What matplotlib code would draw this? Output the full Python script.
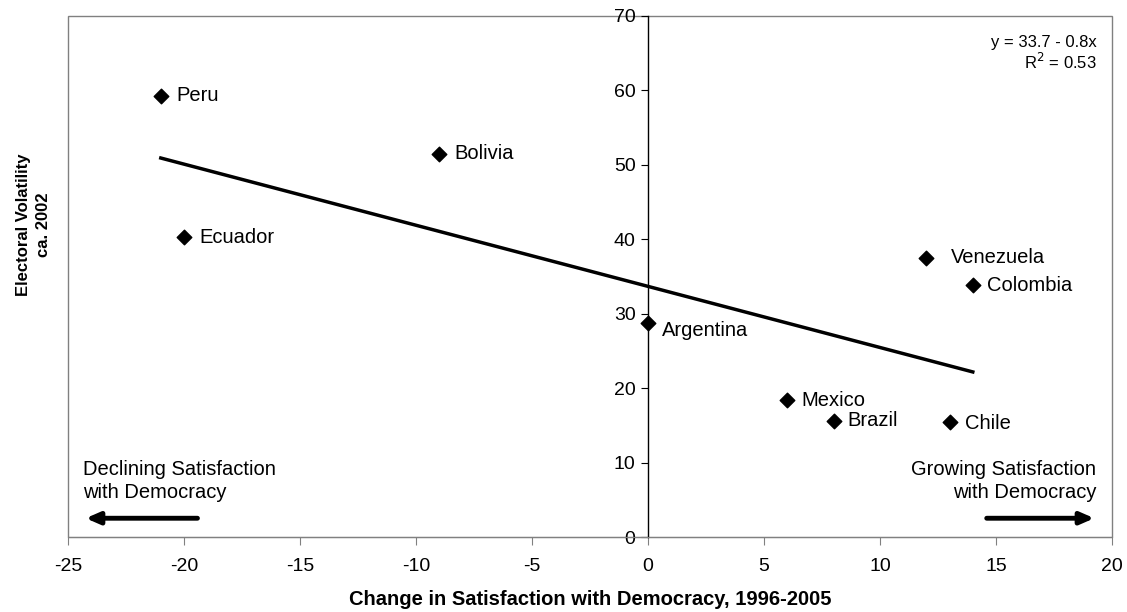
import matplotlib
matplotlib.use("Agg")
import matplotlib.pyplot as plt
from matplotlib.patches import Rectangle
import numpy as np

plt.rcParams['font.family'] = ['Liberation Sans', 'DejaVu Sans']
plt.rcParams['axes.unicode_minus'] = False

# Data
countries = ["Peru", "Bolivia", "Ecuador", "Argentina", "Venezuela",
             "Colombia", "Mexico", "Brazil", "Chile"]
change_satisfaction = [-21, -9, -20, 0, 12, 14, 6, 8, 13]
volatility = [59.3, 51.5, 40.3, 28.8, 37.5, 33.8, 18.4, 15.6, 15.4]

x_ticks = [-25, -20, -15, -10, -5, 0, 5, 10, 15, 20]
y_ticks = [0, 10, 20, 30, 40, 50, 60, 70]

# label offsets in points (dx, dy)
label_offsets = [(11, 0), (11, 0), (11, 0), (10, -6), (18, 0),
                 (10, 0), (10, 0), (10, 0), (11, -1)]

# Linear fit
x = np.array(change_satisfaction, dtype=float)
y = np.array(volatility, dtype=float)
slope, intercept = np.polyfit(x, y, 1)
r2 = np.corrcoef(x, y)[0, 1] ** 2

fig = plt.figure(figsize=(11.27, 6.12), dpi=100)
ax = fig.add_axes([68 / 1127, 1 - 537 / 612, (1112 - 68) / 1127, (537 - 16) / 612])

gray = "#808080"
ax.set_xlim(-25, 20)
ax.set_ylim(0, 70)

# y axis through x = 0
ax.spines['left'].set_position(('data', 0))
ax.spines['left'].set_color("black")
ax.spines['left'].set_linewidth(1.0)
ax.spines['bottom'].set_color(gray)
ax.spines['top'].set_visible(False)
ax.spines['right'].set_visible(False)
ax.add_patch(Rectangle((0, 0), 1, 1, transform=ax.transAxes, fill=False,
                       edgecolor=gray, linewidth=1.0, clip_on=False, zorder=0))

ax.set_xticks(x_ticks)
ax.set_yticks(y_ticks)
ax.tick_params(axis='x', direction='out', length=6, color=gray, labelsize=14, pad=9)
ax.tick_params(axis='y', direction='out', length=5, color="black", labelsize=14, pad=4)

# fit line over data range
xs = np.array([x.min(), x.max()])
ax.plot(xs, intercept + slope * xs, color="black", linewidth=2.5, zorder=2)

ax.scatter(x, y, marker="D", s=55, color="black", zorder=3, clip_on=False)

for name, xi, yi, off in zip(countries, x, y, label_offsets):
    ax.annotate(name, (xi, yi), xytext=off, textcoords="offset points",
                ha="left", va="center", fontsize=14.5)

ax.text(0.985, 0.949, f"y = {intercept:.1f} - {abs(slope):.1f}x",
        transform=ax.transAxes, ha="right", va="center", fontsize=12)
ax.text(0.985, 0.911, f"R$^2$ = {r2:.2f}",
        transform=ax.transAxes, ha="right", va="center", fontsize=12)

# direction notes
ax.text(0.014, 0.107, "Declining Satisfaction\nwith Democracy", transform=ax.transAxes,
        ha="left", va="center", fontsize=14.5, linespacing=1.25)
ax.text(0.985, 0.107, "Growing Satisfaction\nwith Democracy", transform=ax.transAxes,
        ha="right", va="center", fontsize=14.5, linespacing=1.25)
ax.annotate("", xy=(0.017, 0.036), xytext=(0.124, 0.036), xycoords="axes fraction",
            arrowprops=dict(arrowstyle="-|>,head_length=0.8,head_width=0.35",
                            color="black", lw=3.5, shrinkA=0, shrinkB=0))
ax.annotate("", xy=(0.983, 0.036), xytext=(0.88, 0.036), xycoords="axes fraction",
            arrowprops=dict(arrowstyle="-|>,head_length=0.8,head_width=0.35",
                            color="black", lw=3.5, shrinkA=0, shrinkB=0))

ax.set_xlabel("Change in Satisfaction with Democracy, 1996-2005",
              fontsize=14.5, fontweight="bold", labelpad=11)
fig.text(0.03, 1 - 225 / 612, "Electoral Volatility\nca. 2002",
         rotation=90, ha="center", va="center", fontsize=12, fontweight="bold",
         linespacing=1.4)

fig.savefig("out.png", dpi=100)
